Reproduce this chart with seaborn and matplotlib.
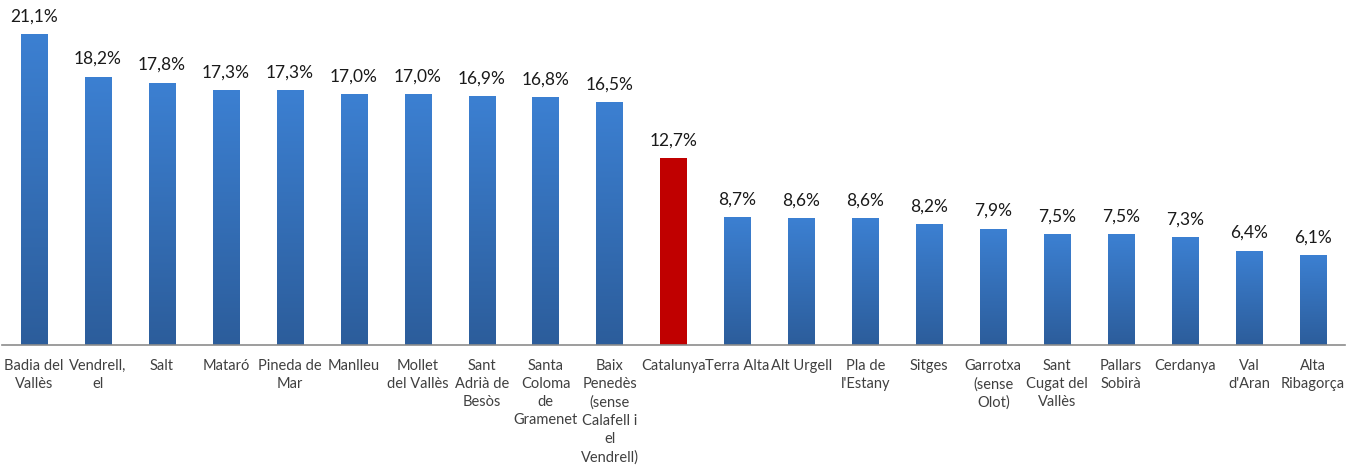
import numpy as np
import pandas as pd
import matplotlib
matplotlib.use("Agg")
from matplotlib import pyplot as plt
from matplotlib.colors import LinearSegmentedColormap
import seaborn as sns

sns.set_theme(style="white")
plt.rcParams['font.family'] = ['Lato', 'DejaVu Sans']

comarques = ["Badia del\nVallès", "Vendrell,\nel", "Salt", "Mataró", "Pineda de\nMar",
             "Manlleu", "Mollet\ndel Vallès", "Sant\nAdrià de\nBesòs",
             "Santa\nColoma\nde\nGramenet", "Baix\nPenedès\n(sense\nCalafell i\nel\nVendrell)",
             "Catalunya", "Terra Alta", "Alt Urgell", "Pla de\nl'Estany", "Sitges",
             "Garrotxa\n(sense\nOlot)", "Sant\nCugat del\nVallès", "Pallars\nSobirà",
             "Cerdanya", "Val\nd'Aran", "Alta\nRibagorça"]
valors = [21.1, 18.2, 17.8, 17.3, 17.3, 17.0, 17.0, 16.9, 16.8, 16.5,
          12.7, 8.7, 8.6, 8.6, 8.2, 7.9, 7.5, 7.5, 7.3, 6.4, 6.1]
destacat = "Catalunya"

df = pd.DataFrame({"comarca": comarques, "valor": valors})

fig = plt.figure(figsize=(13.61, 4.70), dpi=100)
ax = fig.add_axes([2 / 1361, 125 / 470, 1343 / 1361, 345 / 470])

sns.barplot(data=df, x="comarca", y="valor", ax=ax, width=0.41,
            color="#3a7bc8", saturation=1, edgecolor="none")

blau = LinearSegmentedColormap.from_list("blau", ["#2c5d9b", "#3c80d2"])
grad = np.linspace(0, 1, 256).reshape(-1, 1)
for patch, nom in zip(ax.patches, comarques):
    x0, y0 = patch.get_x(), patch.get_y()
    w, h = patch.get_width(), patch.get_height()
    if nom == destacat:
        patch.set_facecolor("#c00000")
        continue
    patch.set_facecolor("none")
    im = ax.imshow(grad, cmap=blau, aspect="auto", origin="lower",
                   extent=[x0, x0 + w, y0, y0 + h], zorder=patch.get_zorder())
    im.set_clip_path(patch)

for patch, v in zip(ax.patches, valors):
    ax.text(patch.get_x() + patch.get_width() / 2, v + 0.65,
            f"{v:.1f}%".replace(".", ","), ha="center", va="bottom",
            fontsize=12.5, color="#1a1a1a")

ax.set_xlim(-0.5, len(comarques) - 0.5)
ax.set_ylim(0, 23.4)
ax.set_xlabel("")
ax.set_ylabel("")
ax.set_yticks([])
ax.tick_params(axis="x", length=0, pad=10, labelsize=10.5, labelcolor="#404040")
ax.set_xticks(range(len(comarques)))
ax.set_xticklabels(comarques, linespacing=1.38, va="top")
for s in ["top", "right", "left"]:
    ax.spines[s].set_visible(False)
ax.spines["bottom"].set_color("#8c8c8c")
ax.spines["bottom"].set_linewidth(1.2)

fig.savefig("out.png", dpi=100)
